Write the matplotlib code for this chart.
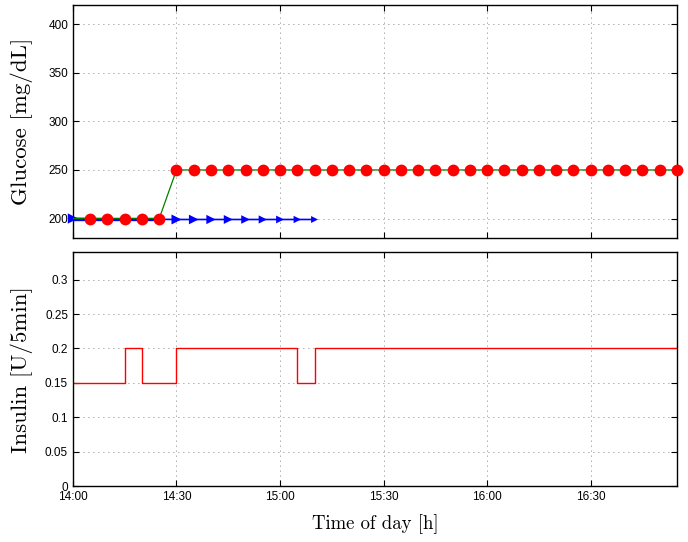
import numpy as np
import matplotlib
matplotlib.use("Agg")
import matplotlib.pyplot as plt

# time in minutes after 14:00
t_meas = [5, 10, 15, 20, 25, 30, 35, 40, 45, 50, 55, 60, 65, 70, 75, 80, 85, 90,
          95, 100, 105, 110, 115, 120, 125, 130, 135, 140, 145, 150, 155, 160, 165, 170, 175]
glucose = [200, 200, 200, 200, 200, 250, 250, 250, 250, 250, 250, 250, 250, 250, 250, 250, 250, 250,
           250, 250, 250, 250, 250, 250, 250, 250, 250, 250, 250, 250, 250, 250, 250, 250, 250]

t_ref = [0, 25, 30, 175]
g_ref = [200, 200, 250, 250]

t_est = [0, 25, 30, 175]
g_est = [200, 200, np.nan, 249]

t_pred = [0, 30, 35, 40, 45, 50, 55, 60, 65, 70]
g_pred = [200, 199, 199, 199, 199, 199, 199, 199, 199, 199]

t_ins = [0, 15, 20, 30, 65, 70, 175]
insulin = [0.15, 0.2, 0.15, 0.2, 0.15, 0.2, 0.2]

xtick_pos = [0, 30, 60, 90, 120, 150]
xtick_lab = ["14:00", "14:30", "15:00", "15:30", "16:00", "16:30"]

plt.rcParams['font.family'] = ['Liberation Sans', 'DejaVu Sans']
plt.rcParams['axes.linewidth'] = 1.0

fig = plt.figure(figsize=(6.88, 5.42), dpi=100)
ax1 = fig.add_axes([0.106, 0.561, 0.878, 0.430])
ax2 = fig.add_axes([0.106, 0.103, 0.878, 0.432])

# glucose
ax1.plot(t_est, g_est, color='blue', linewidth=2.4, zorder=2)
ax1.plot(t_pred, g_pred, color='blue', linewidth=1.2, zorder=2)
sizes = np.linspace(55, 25, len(t_pred))
ax1.scatter(t_pred, g_pred, marker='>', s=sizes, color='blue', edgecolors='none', zorder=3, clip_on=False)
ax1.plot(t_ref, g_ref, color='green', linewidth=0.9, zorder=4)
ax1.plot(t_meas, glucose, 'o', color='red', markersize=8.5, markeredgewidth=0, zorder=5, clip_on=False)
ax1.set_xlim(0, 175)
ax1.set_ylim(180, 420)
ax1.set_yticks([200, 250, 300, 350, 400])
ax1.set_xticks(xtick_pos)
ax1.set_xticklabels([])
ax1.set_ylabel("Glucose [mg/dL]", fontfamily='cmr10', fontsize=16.5)
ax1.yaxis.set_label_coords(-0.066, 0.5)

# insulin
ax2.step(t_ins, insulin, where='post', color='red', linewidth=1.0)
ax2.set_xlim(0, 175)
ax2.set_ylim(0, 0.34)
ax2.set_yticks([0, 0.05, 0.1, 0.15, 0.2, 0.25, 0.3])
ax2.set_yticklabels(["0", "0.05", "0.1", "0.15", "0.2", "0.25", "0.3"])
ax2.set_xticks(xtick_pos)
ax2.set_xticklabels(xtick_lab)
ax2.set_ylabel("Insulin [U/5min]", fontfamily='cmr10', fontsize=16.5)
ax2.yaxis.set_label_coords(-0.066, 0.5)
ax2.set_xlabel("Time of day [h]", fontfamily='cmr10', fontsize=13.5, labelpad=8)

for ax in (ax1, ax2):
    ax.grid(True, linestyle=(0, (1, 5)), color='0.35', linewidth=0.6)
    ax.tick_params(direction='in', top=True, right=True, labelsize=8.5, length=4)

fig.savefig("out.png", dpi=100)
